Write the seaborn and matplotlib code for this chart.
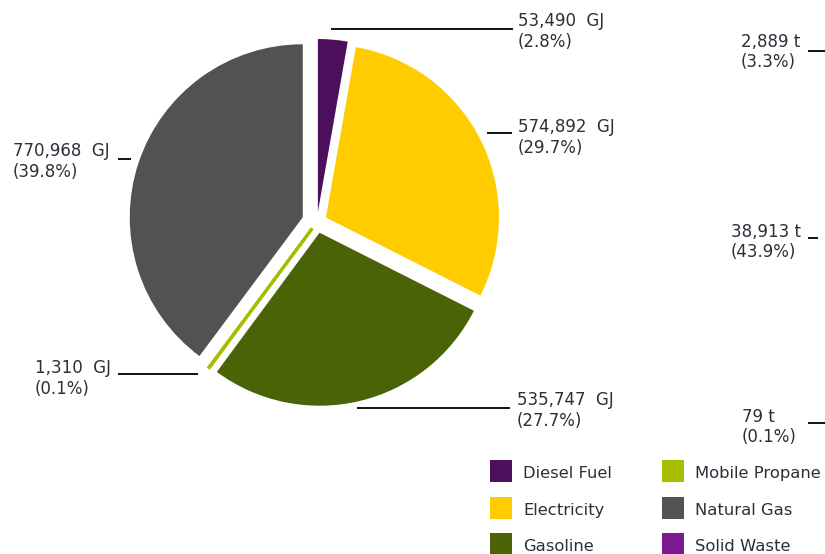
import matplotlib
matplotlib.use("Agg")
import matplotlib.pyplot as plt
import seaborn as sns
from matplotlib.patches import Rectangle

# ---------------- data ----------------
categories = ["Diesel Fuel", "Electricity", "Gasoline", "Mobile Propane", "Natural Gas"]
energy_gj = [53490, 574892, 535747, 1310, 770968]
energy_text = ["53,490  GJ", "574,892  GJ", "535,747  GJ", "1,310  GJ", "770,968  GJ"]
energy_pct = ["(2.8%)", "(29.7%)", "(27.7%)", "(0.1%)", "(39.8%)"]

legend_names = ["Diesel Fuel", "Electricity", "Gasoline",
                "Mobile Propane", "Natural Gas", "Solid Waste"]
legend_colors = ["#4B0F5C", "#FFCC00", "#4A6306", "#A8BD00", "#525252", "#7C1A92"]

waste_text = ["2,889 t", "38,913 t", "79 t"]
waste_pct = ["(3.3%)", "(43.9%)", "(0.1%)"]

# ---------------- style ----------------
sns.set_theme(style="white")
plt.rcParams["font.family"] = ["DejaVu Sans"]
TXT = "#2e2e3a"
FS = 12

W, H = 825, 554
fig = plt.figure(figsize=(W / 100, H / 100), dpi=100)
ax = fig.add_axes([0, 0, 1, 1])

def Y(y):
    return H - y

pal = sns.color_palette(legend_colors)
R = 173
explode_px = [10, 10, 11, 8, 15]   # offsets in data units (pixels here)
wedges, _ = ax.pie(
    energy_gj,
    colors=pal[:5],
    startangle=90,
    counterclock=False,
    center=(317, Y(222)),
    radius=R,
    explode=explode_px,
    wedgeprops=dict(linewidth=0),
)
# make the tiny propane sliver visible
wedges[3].set_edgecolor(pal[3])
wedges[3].set_linewidth(2.2)

ax.set_xlim(0, W)
ax.set_ylim(0, H)
ax.set_aspect("equal")
ax.axis("off")

# ---------------- labels with leader lines ----------------
# (text x, first baseline y, line x0, line x1, line y) per category
label_layout = [
    (518, 26, 331, 513, 29),    # Diesel
    (518, 132, 487, 512, 133),  # Electricity
    (517, 405, 357, 510, 408),  # Gasoline
    (35, 373, 118, 198, 374),   # Mobile Propane
    (13, 156, 118, 131, 159),   # Natural Gas
]
for (tx, ty, lx0, lx1, ly), t1, t2 in zip(label_layout, energy_text, energy_pct):
    ax.text(tx, Y(ty), t1, fontsize=FS, color=TXT, ha="left", va="baseline")
    ax.text(tx, Y(ty + 21), t2, fontsize=FS, color=TXT, ha="left", va="baseline")
    ax.plot([lx0, lx1], [Y(ly), Y(ly)], color="black", lw=1.3, solid_capstyle="butt")

waste_layout = [
    (741, 47, 808, 825, 51),
    (731, 237, 808, 818, 238),
    (742, 422, 808, 825, 423),
]
for (tx, ty, lx0, lx1, ly), t1, t2 in zip(waste_layout, waste_text, waste_pct):
    ax.text(tx, Y(ty), t1, fontsize=FS, color=TXT, ha="left", va="baseline")
    ax.text(tx, Y(ty + 20), t2, fontsize=FS, color=TXT, ha="left", va="baseline")
    ax.plot([lx0, lx1], [Y(ly), Y(ly)], color="black", lw=1.3, solid_capstyle="butt")

# ---------------- legend ----------------
col_x = [490, 662]
row_top = [460, 497, 533]
for i, (name, c) in enumerate(zip(legend_names, pal)):
    col, row = i // 3, i % 3
    x0, y0 = col_x[col], row_top[row]
    ax.add_patch(Rectangle((x0, Y(y0 + 22)), 22, 22, facecolor=c, edgecolor="none"))
    ax.text(x0 + 33, Y(y0 + 18), name, fontsize=11.8, color=TXT, ha="left", va="baseline")

fig.savefig("out.png", dpi=100)
